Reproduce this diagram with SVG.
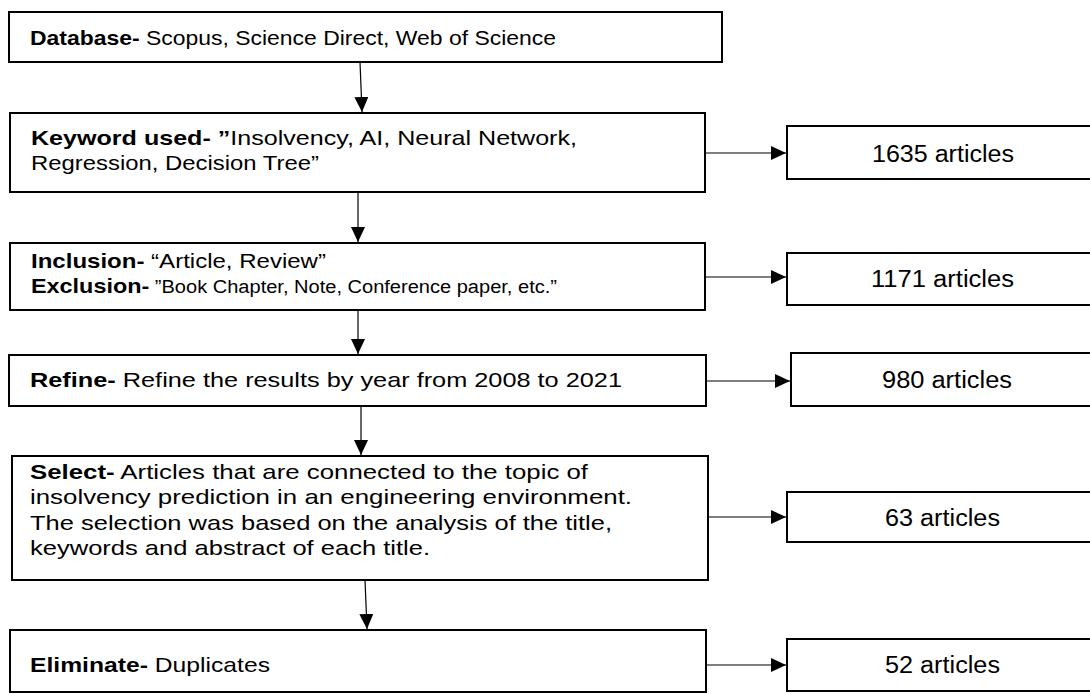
<svg xmlns="http://www.w3.org/2000/svg" width="1090" height="694" viewBox="0 0 1090 694">
<style>
.box{fill:#fff;stroke:#000;stroke-width:2}
.t{font-family:"Liberation Sans",Arial,sans-serif;font-size:21px;fill:#000}
.r{font-family:"Liberation Sans",Arial,sans-serif;font-size:23px;fill:#000}
.b{font-weight:bold}
.ln{stroke:#000;stroke-width:1.2;fill:none}
</style>
<defs>
<marker id="ah" markerWidth="15" markerHeight="14" refX="15" refY="7" orient="auto" markerUnits="userSpaceOnUse">
<path d="M0,0 L15,7 L0,14 Z" fill="#000"/>
</marker>
</defs>
<rect width="1090" height="694" fill="#fff"/>
<g id="connectors">
<line class="ln" x1="360" y1="62" x2="362" y2="112" marker-end="url(#ah)"/>
<line class="ln" x1="358" y1="193" x2="358" y2="242" marker-end="url(#ah)"/>
<line class="ln" x1="358" y1="310" x2="358" y2="354" marker-end="url(#ah)"/>
<line class="ln" x1="361" y1="406" x2="361" y2="455" marker-end="url(#ah)"/>
<line class="ln" x1="365" y1="580" x2="367" y2="629" marker-end="url(#ah)"/>
<line class="ln" x1="705" y1="153" x2="786" y2="153" marker-end="url(#ah)"/>
<line class="ln" x1="705" y1="277" x2="786" y2="277" marker-end="url(#ah)"/>
<line class="ln" x1="706" y1="381" x2="790" y2="381" marker-end="url(#ah)"/>
<line class="ln" x1="708" y1="517" x2="786" y2="517" marker-end="url(#ah)"/>
<line class="ln" x1="706" y1="665" x2="786" y2="665" marker-end="url(#ah)"/>
</g>
<g id="n1">
<rect class="box" x="9" y="12" width="713" height="50"/>
<text class="t" x="30" y="45" textLength="526" lengthAdjust="spacingAndGlyphs"><tspan class="b">Database-</tspan> Scopus, Science Direct, Web of Science</text>
</g>
<g id="n2">
<rect class="box" x="10" y="113" width="695" height="79"/>
<text class="t" x="31" y="145" textLength="546" lengthAdjust="spacingAndGlyphs"><tspan class="b">Keyword used- ”</tspan>Insolvency, AI, Neural Network,</text>
<text class="t" x="31" y="170" textLength="288" lengthAdjust="spacingAndGlyphs">Regression, Decision Tree”</text>
</g>
<g id="r1">
<rect class="box" x="787" y="126" width="310" height="53"/>
<text class="r" x="872" y="162" textLength="142" lengthAdjust="spacingAndGlyphs">1635 articles</text>
</g>
<g id="n3">
<rect class="box" x="10" y="243" width="695" height="67"/>
<text class="t" x="31" y="268" textLength="295" lengthAdjust="spacingAndGlyphs"><tspan class="b">Inclusion-</tspan> “Article, Review”</text>
<text class="t" x="31" y="293" textLength="526" lengthAdjust="spacingAndGlyphs"><tspan class="b">Exclusion-</tspan><tspan font-size="18"> ”Book Chapter, Note, Conference paper, etc.”</tspan></text>
</g>
<g id="r2">
<rect class="box" x="787" y="253" width="310" height="52"/>
<text class="r" x="871" y="287" textLength="143" lengthAdjust="spacingAndGlyphs">1171 articles</text>
</g>
<g id="n4">
<rect class="box" x="9" y="355" width="697" height="51"/>
<text class="t" x="30" y="387" textLength="592" lengthAdjust="spacingAndGlyphs"><tspan class="b">Refine-</tspan> Refine the results by year from 2008 to 2021</text>
</g>
<g id="r3">
<rect class="box" x="791" y="353" width="306" height="53"/>
<text class="r" x="882" y="388" textLength="130" lengthAdjust="spacingAndGlyphs">980 articles</text>
</g>
<g id="n5">
<rect class="box" x="12" y="456" width="696" height="124"/>
<text class="t" x="30" y="479" textLength="558" lengthAdjust="spacingAndGlyphs"><tspan class="b">Select-</tspan> Articles that are connected to the topic of</text>
<text class="t" x="30" y="504" textLength="602" lengthAdjust="spacingAndGlyphs">insolvency prediction in an engineering environment.</text>
<text class="t" x="30" y="530" textLength="582" lengthAdjust="spacingAndGlyphs">The selection was based on the analysis of the title,</text>
<text class="t" x="30" y="555" textLength="400" lengthAdjust="spacingAndGlyphs">keywords and abstract of each title.</text>
</g>
<g id="r4">
<rect class="box" x="787" y="492" width="310" height="50"/>
<text class="r" x="885" y="526" textLength="115" lengthAdjust="spacingAndGlyphs">63 articles</text>
</g>
<g id="n6">
<rect class="box" x="10" y="630" width="696" height="62"/>
<text class="t" x="30" y="672" textLength="240" lengthAdjust="spacingAndGlyphs"><tspan class="b">Eliminate-</tspan> Duplicates</text>
</g>
<g id="r5">
<rect class="box" x="787" y="639" width="310" height="52"/>
<text class="r" x="885" y="673" textLength="115" lengthAdjust="spacingAndGlyphs">52 articles</text>
</g>
</svg>
